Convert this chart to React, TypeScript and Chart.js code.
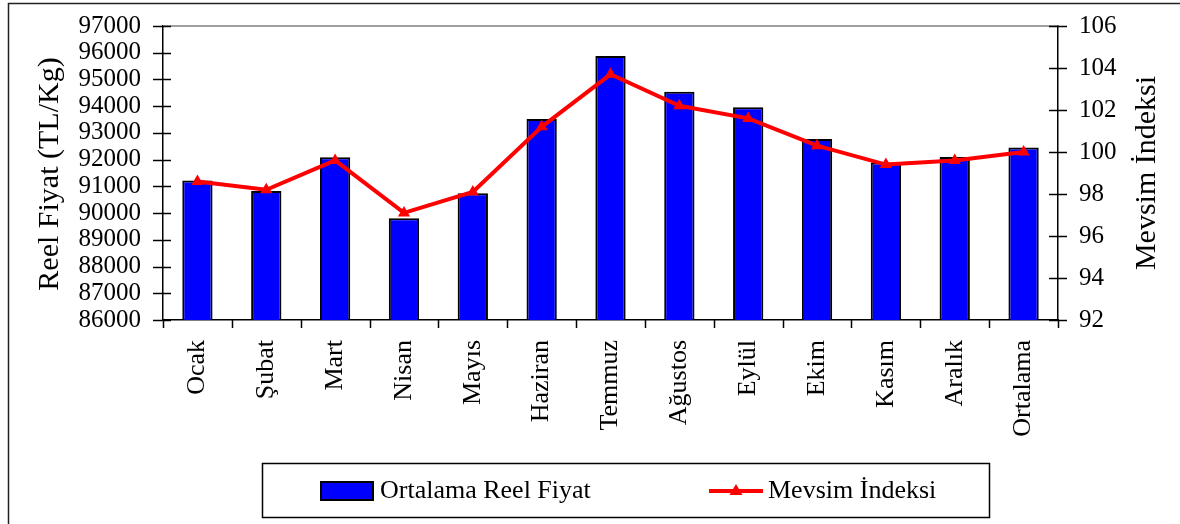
import React, { useEffect, useRef } from 'react';
import { Chart, registerables } from 'chart.js';

Chart.register(...registerables);

const categories = ['Ocak', 'Şubat', 'Mart', 'Nisan', 'Mayıs', 'Haziran', 'Temmuz', 'Ağustos', 'Eylül', 'Ekim', 'Kasım', 'Aralık', 'Ortalama'];
const realPrice = [91220, 90830, 92090, 89810, 90740, 93520, 95880, 94540, 93960, 92770, 91890, 92100, 92450];
const seasonalIndex = [98.6, 98.2, 99.6, 97.1, 98.1, 101.2, 103.7, 102.2, 101.6, 100.3, 99.4, 99.6, 100.0];

const leftTitle = 'Reel Fiyat (TL/Kg)';
const rightTitle = 'Mevsim İndeksi';
const barLabel = 'Ortalama Reel Fiyat';
const lineLabel = 'Mevsim İndeksi';

const FONT = "'Liberation Serif', 'Times New Roman', serif";

const decorPlugin = {
  id: 'decor',
  afterDraw(chart: any) {
    const ctx = chart.ctx as CanvasRenderingContext2D;
    const { left, right, top, bottom } = chart.chartArea;
    const y = chart.scales.y;
    const y1 = chart.scales.y1;
    const n = categories.length;
    ctx.save();
    // top plot border (gray)
    ctx.strokeStyle = '#808080';
    ctx.lineWidth = 1.5;
    ctx.beginPath();
    ctx.moveTo(left, top);
    ctx.lineTo(right, top);
    ctx.stroke();

    ctx.strokeStyle = '#000';
    ctx.lineWidth = 1.5;
    ctx.beginPath();
    y.ticks.forEach((t: any) => {
      const py = Math.round(y.getPixelForValue(t.value)) + 0.5;
      ctx.moveTo(left - 10, py);
      ctx.lineTo(left + 8, py);
    });
    y1.ticks.forEach((t: any) => {
      const py = Math.round(y1.getPixelForValue(t.value)) + 0.5;
      ctx.moveTo(right - 9, py);
      ctx.lineTo(right + 9, py);
    });
    for (let i = 0; i <= n; i++) {
      const px = Math.round(left + (i * (right - left)) / n) + 0.5;
      ctx.moveTo(px, bottom);
      ctx.lineTo(px, bottom + 8);
    }
    ctx.stroke();

    // axis titles
    ctx.fillStyle = '#000';
    ctx.font = `30px ${FONT}`;
    ctx.textAlign = 'center';
    ctx.textBaseline = 'middle';
    ctx.save();
    ctx.translate(50, 174);
    ctx.rotate(-Math.PI / 2);
    ctx.fillText(leftTitle, 0, 0);
    ctx.restore();
    ctx.save();
    ctx.translate(1147, 173);
    ctx.rotate(-Math.PI / 2);
    ctx.fillText(rightTitle, 0, 0);
    ctx.restore();

    // legend box
    ctx.strokeStyle = '#000';
    ctx.lineWidth = 1.5;
    ctx.strokeRect(262.5, 463.5, 727, 54);
    // bar swatch
    ctx.fillStyle = '#0000FF';
    ctx.fillRect(321, 482, 52, 18);
    ctx.lineWidth = 2;
    ctx.strokeRect(321, 482, 52, 18);
    ctx.fillStyle = '#000';
    ctx.font = `26px ${FONT}`;
    ctx.textAlign = 'left';
    ctx.textBaseline = 'middle';
    ctx.fillText(barLabel, 380, 491);
    // line swatch
    ctx.strokeStyle = '#FF0000';
    ctx.lineWidth = 4;
    ctx.beginPath();
    ctx.moveTo(709, 491);
    ctx.lineTo(763, 491);
    ctx.stroke();
    ctx.fillStyle = '#FF0000';
    ctx.beginPath();
    ctx.moveTo(736, 484);
    ctx.lineTo(742.5, 495);
    ctx.lineTo(729.5, 495);
    ctx.closePath();
    ctx.fill();
    ctx.fillStyle = '#000';
    ctx.fillText(lineLabel, 768, 491);

    // outer frame
    ctx.strokeStyle = '#222';
    ctx.lineWidth = 1.5;
    ctx.beginPath();
    ctx.moveTo(8.5, 530);
    ctx.lineTo(8.5, 3.5);
    ctx.lineTo(1190, 3.5);
    ctx.stroke();
    ctx.restore();
  },
};

const zeroPad = (s: any) => {
  s.paddingTop = 0;
  s.paddingBottom = 0;
  s.paddingLeft = 0;
  s.paddingRight = 0;
};

export default function App() {
  const ref = useRef<HTMLCanvasElement | null>(null);
  useEffect(() => {
    if (!ref.current) return;
    const chart = new Chart(ref.current, {
      type: 'bar',
      data: {
        labels: categories,
        datasets: [
          {
            type: 'line',
            label: lineLabel,
            data: seasonalIndex,
            yAxisID: 'y1',
            borderColor: '#FF0000',
            backgroundColor: '#FF0000',
            borderWidth: 4,
            pointStyle: 'triangle',
            pointRadius: 7,
            pointBorderWidth: 0,
            tension: 0,
            order: 0,
          } as any,
          {
            type: 'bar',
            label: barLabel,
            data: realPrice,
            yAxisID: 'y',
            backgroundColor: '#0000FF',
            borderColor: '#000',
            borderWidth: 2,
            barPercentage: 0.44,
            categoryPercentage: 1,
            order: 1,
          } as any,
        ],
      },
      options: {
        animation: false,
        responsive: false,
        devicePixelRatio: 1,
        layout: { padding: { top: 26, left: 0, right: 0, bottom: 0 } },
        plugins: { legend: { display: false }, tooltip: { enabled: false } },
        scales: {
          x: {
            grid: { display: true, drawOnChartArea: false, drawTicks: false },
            border: { display: true, color: '#000', width: 1.5 },
            ticks: {
              color: '#000',
              font: { family: FONT, size: 26 },
              minRotation: 90,
              maxRotation: 90,
              autoSkip: false,
              padding: 20,
            },
            afterFit: (s: any) => {
              s.height = 204;
              zeroPad(s);
            },
          },
          y: {
            position: 'left',
            min: 86000,
            max: 97000,
            grid: { display: true, drawOnChartArea: false, drawTicks: false },
            border: { display: true, color: '#000', width: 1.5 },
            ticks: {
              stepSize: 1000,
              autoSkip: false,
              color: '#000',
              font: { family: FONT, size: 25 },
              padding: 22,
              callback: (v: any) => String(v),
            },
            afterFit: (s: any) => {
              s.width = 163;
              zeroPad(s);
            },
          },
          y1: {
            position: 'right',
            min: 92,
            max: 106,
            grid: { display: true, drawOnChartArea: false, drawTicks: false },
            border: { display: true, color: '#000', width: 1.5 },
            ticks: {
              stepSize: 2,
              autoSkip: false,
              color: '#000',
              font: { family: FONT, size: 25 },
              padding: 21,
            },
            afterFit: (s: any) => {
              s.width = 122;
              zeroPad(s);
            },
          },
        },
      },
      plugins: [decorPlugin],
    });
    return () => chart.destroy();
  }, []);
  return (
    <div style={{ position: 'absolute', left: 0, top: 0, width: 1180, height: 524, background: '#fff' }}>
      <canvas ref={ref} width={1180} height={524} style={{ width: 1180, height: 524, display: 'block' }} />
    </div>
  );
}
